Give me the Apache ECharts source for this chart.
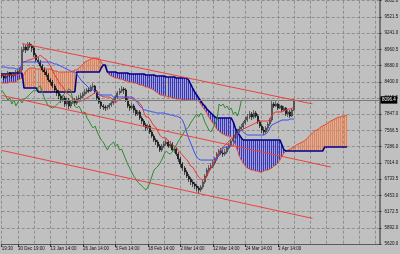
<!DOCTYPE html>
<html><head><meta charset="utf-8">
<script src="https://cdn.jsdelivr.net/npm/echarts/dist/echarts.min.js"></script>
<style>html,body{margin:0;padding:0;background:#c0c0c0;overflow:hidden}#c{width:400px;height:254px}</style>
</head><body><div id="c"></div>
<script>
const categoryCount = 187;
const xTickIdx = [0, 8, 24, 40, 56, 72, 88, 104, 120, 136];
const xTickText = ['19:30', '30 Dec 19:00', '13 Jan 14:00', '26 Jan 14:00', '5 Feb 14:00', '18 Feb 14:00', '2 Mar 14:00', '12 Mar 14:00', '24 Mar 14:00', '3 Apr 14:00'];
const yTickText = ['5620.0', '5892.0', '6172.5', '6453.0', '6733.5', '7014.0', '7286.0', '7566.5', '7847.0', '8119.5', '8400.0', '8680.0', '8960.5', '9241.0', '9521.5', '9802.0'];
const yMin = 5620, yMax = 9802;

const opens = [
8525,8508,8473,8508,8559,8525,8508,8542,8576,8593,
8611,8955,9006,8955,9058,9023,8989,8869,8783,8748,
8679,8611,8576,8525,8439,8404,8336,8267,8215,8164,
8095,8129,8026,8095,7992,8061,8095,8043,8112,8129,
8164,8198,8233,8267,8250,8318,8336,8233,8129,8061,
7992,7975,7957,7975,8009,8043,8078,8147,8215,8250,
8284,8267,8095,7992,7957,7992,7923,7854,7889,7786,
7734,7665,7614,7648,7545,7476,7407,7373,7304,7235,
7304,7339,7373,7304,7339,7235,7253,7167,7081,6995,
6926,6857,6788,6737,6685,6651,6616,6582,6548,6599,
6685,6788,6891,6926,6960,7012,7081,7167,7218,7184,
7167,7201,7270,7321,7390,7442,7493,7562,7596,7631,
7700,7751,7803,7854,7803,7871,7820,7717,7648,7579,
7545,7614,7682,7751,8026,7992,8026,7957,7992,7923,
7957,7854,7889,7820,7923];
const closes = [
8508,8473,8508,8559,8525,8508,8542,8576,8593,8611,
8955,9006,8955,9058,9023,8989,8869,8783,8748,8679,
8611,8576,8525,8439,8404,8336,8267,8215,8164,8095,
8129,8026,8095,7992,8061,8095,8043,8112,8129,8164,
8198,8233,8267,8250,8318,8336,8233,8129,8061,7992,
7975,7957,7975,8009,8043,8078,8147,8215,8250,8284,
8267,8095,7992,7957,7992,7923,7854,7889,7786,7734,
7665,7614,7648,7545,7476,7407,7373,7304,7235,7304,
7339,7373,7304,7339,7235,7253,7167,7081,6995,6926,
6857,6788,6737,6685,6651,6616,6582,6548,6599,6685,
6788,6891,6926,6960,7012,7081,7167,7218,7184,7167,
7201,7270,7321,7390,7442,7493,7562,7596,7631,7700,
7751,7803,7854,7803,7871,7820,7717,7648,7579,7545,
7614,7682,7751,8026,7992,8026,7957,7992,7923,7957,
7854,7889,7820,7923,8096.4];
const highs = [
8559,8525,8542,8593,8576,8559,8576,8611,8628,8662,
9006,9058,9040,9092,9092,9058,9023,8903,8834,8783,
8714,8662,8611,8559,8473,8439,8370,8301,8267,8198,
8181,8164,8129,8129,8095,8147,8129,8164,8181,8215,
8233,8284,8301,8318,8353,8387,8353,8267,8164,8095,
8026,8009,8009,8043,8078,8112,8181,8250,8301,8336,
8318,8301,8129,8026,8043,8026,7957,7923,7923,7820,
7768,7700,7682,7682,7579,7510,7442,7407,7339,7339,
7390,7425,7407,7390,7373,7287,7287,7201,7115,7029,
6960,6891,6823,6771,6720,6685,6651,6616,6634,6720,
6823,6926,6977,7012,7063,7115,7201,7253,7270,7235,
7253,7304,7356,7425,7476,7528,7596,7648,7682,7734,
7803,7854,7906,7889,7923,7906,7854,7751,7682,7631,
7648,7717,7786,8078,8061,8078,8043,8026,8009,7992,
7975,7923,7923,7957,8112];
const lows = [
8473,8439,8456,8490,8490,8456,8473,8508,8542,8559,
8576,8920,8903,8937,8989,8920,8834,8748,8714,8645,
8576,8525,8490,8404,8353,8301,8233,8164,8112,8043,
8061,7975,7992,7940,7957,8026,7992,8009,8078,8095,
8129,8164,8198,8215,8233,8284,8198,8095,8026,7940,
7923,7906,7923,7940,7975,8009,8043,8112,8181,8215,
8198,8061,7957,7906,7923,7871,7820,7820,7751,7682,
7631,7562,7579,7510,7442,7373,7321,7270,7201,7201,
7270,7304,7270,7270,7201,7184,7132,7029,6943,6874,
6806,6754,6685,6634,6599,6565,6530,6496,6513,6565,
6651,6754,6857,6891,6926,6977,7046,7132,7149,7115,
7132,7167,7235,7287,7356,7407,7459,7528,7562,7596,
7665,7717,7768,7751,7768,7786,7682,7614,7528,7493,
7510,7579,7648,7717,7957,7975,7923,7940,7889,7906,
7820,7803,7786,7803,7906];

const tenkan = [
8525,8525,8525,8525,8525,8525,8525,8525,8525,8542,
8731,8757,8757,8783,8783,8800,8817,8826,8834,8869,
8834,8808,8791,8731,8688,8602,8533,8473,8413,8353,
8327,8267,8224,8190,8155,8121,8104,8069,8061,8078,
8086,8112,8129,8155,8172,8198,8233,8241,8207,8164,
8155,8147,8147,8147,8129,8086,8043,8078,8104,8121,
8129,8138,8147,8121,8121,8104,8078,8078,8035,7992,
7880,7803,7803,7768,7700,7648,7622,7545,7485,7450,
7442,7442,7390,7356,7321,7304,7278,7227,7184,7149,
7107,7072,7029,6960,6943,6883,6823,6771,6737,6720,
6737,6788,6857,6926,6995,7063,7132,7201,7253,7287,
7321,7356,7390,7425,7442,7476,7510,7545,7579,7596,
7614,7631,7648,7665,7682,7700,7717,7734,7734,7734,
7734,7734,7751,7837,7871,7889,7889,7889,7889,7906,
7923,7940,7940,7957,7957];
const kijun = [
8662,8662,8662,8645,8645,8645,8645,8628,8628,8628,
8731,8748,8748,8748,8748,8748,8748,8748,8748,8748,
8748,8748,8748,8748,8748,8731,8714,8714,8697,8679,
8662,8645,8628,8611,8593,8576,8576,8542,8490,8439,
8404,8370,8336,8301,8284,8267,8250,8215,8181,8181,
8181,8181,8181,8181,8181,8147,8147,8147,8147,8147,
8147,8147,8147,8147,8147,8129,8095,8043,7992,7957,
7923,7923,7906,7906,7889,7889,7871,7871,7871,7871,
7871,7854,7854,7837,7837,7820,7820,7803,7786,7751,
7665,7545,7442,7356,7270,7184,7115,7081,7063,7063,
7063,7063,7063,7063,7063,7081,7098,7132,7201,7270,
7287,7287,7287,7304,7321,7407,7493,7562,7579,7545,
7510,7493,7493,7493,7493,7493,7493,7493,7493,7493,
7510,7545,7614,7665,7682,7700,7717,7734,7751,7751,
7751,7751,7768,7768,7768];
const senkouA = [
8387,8387,8387,8387,8404,8404,8404,8404,8439,8456,
8473,8542,8593,8628,8645,8645,8645,8628,8628,8628,
8628,8628,8628,8628,8628,8611,8593,8593,8576,8576,
8576,8576,8576,8576,8576,8593,8611,8611,8645,8679,
8714,8748,8765,8783,8800,8817,8817,8817,8800,8748,
8697,8662,8576,8525,8508,8490,8473,8473,8456,8456,
8439,8422,8422,8404,8404,8387,8387,8370,8353,8353,
8336,8318,8318,8301,8284,8267,8233,8215,8181,8181,
8164,8164,8147,8147,8129,8129,8112,8112,8112,8095,
8095,8095,8095,8095,8095,8095,8095,8078,8026,7975,
7923,7871,7803,7751,7700,7648,7596,7562,7528,7510,
7493,7476,7476,7459,7425,7339,7235,7132,7063,7012,
6960,6926,6909,6891,6891,6874,6874,6857,6857,6874,
6891,6891,6909,6926,6960,6977,7012,7063,7132,7184,
7218,7235,7253,7270,7287,7321,7339,7356,7373,7390,
7425,7459,7493,7528,7562,7579,7596,7631,7648,7665,
7682,7717,7734,7751,7768,7786,7803,7803,7820,7820,
7837];
const senkouB = [
8542,8542,8542,8542,8559,8559,8559,8559,8559,8559,
8559,8301,8301,8301,8301,8301,8301,8301,8233,8233,
8233,8233,8233,8233,8233,8233,8233,8233,8233,8233,
8233,8233,8233,8233,8233,8233,8233,8576,8576,8576,
8576,8576,8576,8576,8576,8576,8576,8576,8576,8645,
8697,8697,8576,8576,8576,8576,8576,8559,8559,8559,
8559,8559,8559,8542,8542,8542,8542,8542,8542,8542,
8542,8525,8525,8525,8525,8525,8508,8508,8508,8508,
8508,8490,8490,8490,8490,8490,8473,8473,8473,8473,
8473,8473,8439,8370,8301,8233,8181,8129,8078,8026,
7992,7940,7906,7871,7837,7803,7786,7786,7786,7786,
7786,7786,7786,7786,7717,7614,7545,7493,7442,7407,
7407,7407,7407,7407,7407,7407,7407,7407,7407,7407,
7407,7407,7407,7407,7407,7407,7407,7407,7321,7235,
7218,7218,7218,7218,7218,7218,7218,7218,7218,7218,
7218,7218,7218,7218,7218,7218,7218,7218,7218,7287,
7287,7287,7287,7287,7287,7287,7287,7287,7287,7287,
7287];
const chikouShift = 26;
const trendUpper = [[10, 9066], [153, 8028]];
const trendMiddle = [[0, 8174], [162, 6943]];
const trendLower = [[0, 7229], [153, 6060]];

const categories = Array.from({length: categoryCount}, (_, i) => String(i));
const priceRows = opens.map((o, i) => [o, closes[i], lows[i], highs[i]]);
const cloudRows = senkouA.map((a, i) => { const b = senkouB[i]; return [b, a, Math.min(a, b), Math.max(a, b)]; });
const chikou = closes.slice(chikouShift);
const lastPrice = closes[closes.length - 1];
const yStep = (yMax - yMin) / 15;

const FONT = 'Liberation Sans';
const gridLine = {show: true, lineStyle: {color: '#8e8e8e', type: [3, 2], width: 1}};
const line = (data, color, width, z) => ({type: 'line', data, symbol: 'none', showSymbol: false, silent: true, z: z || 3,
  lineStyle: {color, width: width || 1}, emphasis: {disabled: true}});

const chart = echarts.init(document.getElementById('c'), null, {renderer: 'canvas'});
chart.setOption({
  animation: false,
  backgroundColor: '#c0c0c0',
  grid: {left: 1.7, right: 20.5, top: 0.7, bottom: 10, outerBoundsMode: 'none', containLabel: false},
  xAxis: {
    type: 'category', data: categories, boundaryGap: false,
    axisLine: {show: true, lineStyle: {color: '#5a5a5a', width: 1}},
    axisTick: {show: true, length: 3, interval: (i) => xTickIdx.includes(i), lineStyle: {color: '#333'}},
    axisLabel: {interval: (i) => xTickIdx.includes(i), formatter: (v, i) => xTickText[xTickIdx.indexOf(Number(v))] || '',
      align: 'left', fontSize: 4.5, fontFamily: FONT, color: '#111', margin: 2},
    splitLine: Object.assign({interval: (i) => i % 8 === 0}, gridLine)
  },
  yAxis: {
    type: 'value', position: 'right', min: yMin, max: yMax, interval: yStep, scale: true,
    axisLine: {show: true, lineStyle: {color: '#5a5a5a', width: 1.5}},
    axisTick: {show: true, length: 2, lineStyle: {color: '#333'}},
    axisLabel: {margin: 5, fontSize: 4.5, fontFamily: FONT, color: '#111', align: 'left',
      formatter: (v) => yTickText[Math.round((v - yMin) / yStep)] || ''},
    splitLine: gridLine
  },
  series: [
    {type: 'candlestick', data: cloudRows, barWidth: 1, silent: true, z: 1,
      itemStyle: {color: '#ee8050', color0: '#3434cc', borderColor: '#ee8050', borderColor0: '#3434cc', borderWidth: 1.2}},
    line(senkouA, '#e64a2a', 1, 2),
    line(senkouB, '#00008a', 1.6, 2),
    {type: 'candlestick', data: priceRows, barWidth: 1.5, silent: true, z: 3,
      itemStyle: {color: '#6e6e6e', color0: '#000000', borderColor: '#2a2a2a', borderColor0: '#000000', borderWidth: 0.6},
      markLine: {symbol: 'none', silent: true, animation: false, data: [{yAxis: lastPrice}],
        lineStyle: {color: '#7a7a7a', type: 'solid', width: 1},
        label: {show: true, position: 'end', distance: 1, formatter: () => lastPrice.toFixed(1),
          backgroundColor: '#000', color: '#fff', fontSize: 4.5, fontFamily: FONT, padding: [1.2, 1.5]}}},
    line(tenkan, '#e83434', 1, 4),
    line(kijun, '#3a4ef0', 1, 4),
    line(chikou, '#2e8a2e', 1, 4),
    line(trendUpper, '#f04040', 1, 5),
    line(trendMiddle, '#f04040', 1, 5),
    line(trendLower, '#f04040', 1, 5)
  ]
});
</script></body></html>
